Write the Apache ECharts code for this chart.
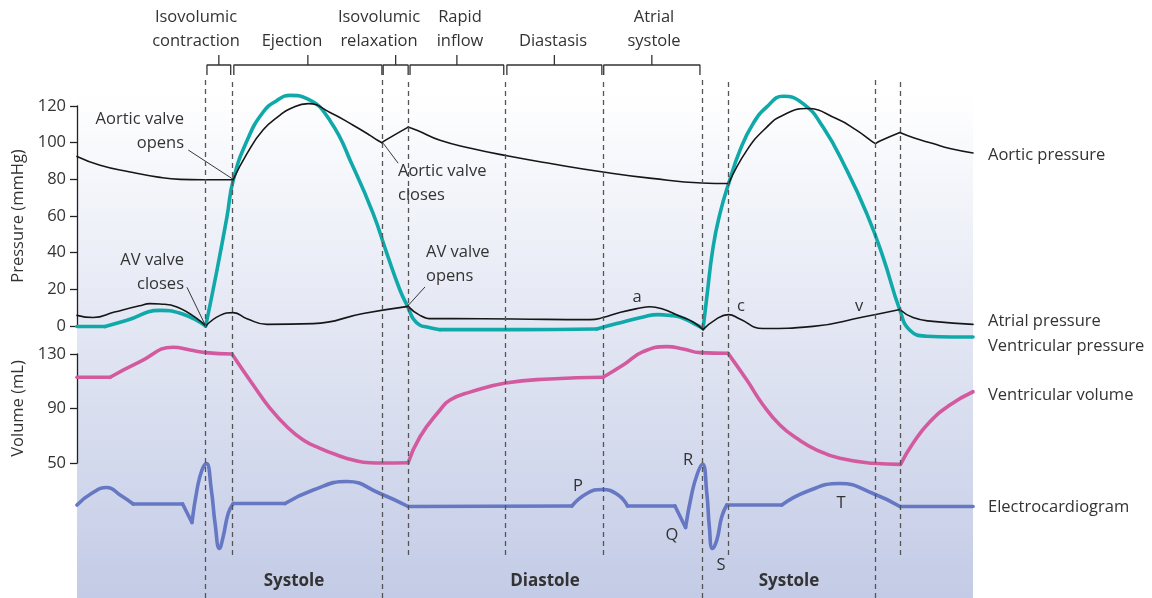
<!DOCTYPE html>
<html>
<head>
<meta charset="utf-8">
<script src="https://cdn.jsdelivr.net/npm/echarts@6/dist/echarts.min.js"></script>
<style>
html, body { margin: 0; padding: 0; background: #fff; }
#chart { width: 1152px; height: 598px; }
</style>
</head>
<body>
<div id="chart"></div>
<script>
// time axis in ms (one beat is roughly 800 ms)
var timeMax = 1434;

var longDashes = [206, 488, 1000, 1277];
var shortDashes = [248, 530, 686, 842, 1042, 1318];

var phaseNames = ['Isovolumic\ncontraction', 'Ejection', 'Isovolumic\nrelaxation', 'Rapid\ninflow', 'Diastasis', 'Atrial\nsystole'];
var phaseStart = [208, 251, 490, 533, 688, 843];
var phaseEnd = [246, 488, 530, 683, 840, 997];

var pressureTicks = [0, 20, 40, 60, 80, 100, 120];
var volumeTicks = [50, 90, 130];

// [time ms, mmHg]
var aorticPressure = [[0,92.5],[37,87.7],[85,84],[130,81.2],[165,80],[200,79.8],[250,79.8],[272,94],[298,107],[325,115],
  [341,118.5],[370,121.3],[405,116.5],[442,109.5],[469,104],[481,101.3],[488,100],[496,101.8],[530,108.5],[545,106.6],
  [581,101.3],[630,97],[686,93],[760,88.5],[842,84],[920,80.5],[1000,78],[1043,77.7],[1072,95.8],[1104,108.5],
  [1130,115],[1168,118.6],[1216,113],[1248,106.7],[1270,101.3],[1278,99.5],[1286,101],[1317,105.5],[1340,102.5],
  [1370,99.5],[1397,96.8],[1434,94.4]];

var ventricularPressure = [[0,-0.3],[45,-0.3],[80,3.1],[133,8.5],[170,6.4],[206,0],[224,30.4],[240,59.5],[250,79.5],
  [272,101],[298,116.7],[320,123],[341,125.8],[368,124],[405,112],[442,86.7],[474,61.3],[496,39.5],[517,19.5],
  [530,10],[538,4],[549,0.4],[560,-0.5],[581,-2],[700,-2],[832,-1.6],[864,1.3],[906,4.9],[930,6.2],[949,5.8],
  [965,4.9],[986,1.6],[1002,-1.4],[1008,15.8],[1018,43],[1029,61.3],[1043,77.8],[1061,95.8],[1082,110.4],
  [1104,119.5],[1130,125.3],[1162,121.3],[1194,108.5],[1232,85],[1264,61.3],[1290,37.6],[1317,8.6],[1333,-2.3],
  [1360,-5.6],[1400,-6],[1434,-6]];

var atrialPressure = [[0,5.8],[26,4.6],[60,7.6],[100,11],[117,12.2],[133,12],[160,10.4],[206,0],[229,5.8],[250,7.3],
  [272,4],[304,0.9],[378,1.3],[458,6.8],[530,10.7],[549,5.8],[570,4],[600,4],[700,3.8],[821,3.5],[842,4.6],
  [870,7.5],[901,9.8],[917,10.5],[935,9.5],[965,5.3],[986,2.2],[1002,-2],[1022,3.5],[1043,6.2],[1060,4],
  [1098,-1.4],[1178,-0.2],[1258,4.9],[1317,9],[1338,4.6],[1370,2.5],[1434,0.9]];

// [time ms, mL]
var ventricularVolume = [[0,112.9],[53,112.9],[101,124.4],[154,134.9],[181,132.9],[206,131],[248,130],[282,107.2],
  [309,90.1],[336,76.6],[362,66.9],[389,60.8],[416,55.9],[442,52.2],[469,50.2],[488,50],[530,50.2],[549,69.3],
  [581,88.9],[597,96.2],[629,102],[686,108.7],[757,111.7],[842,112.9],[874,121.9],[906,131.7],[944,135.4],
  [970,133.7],[997,131],[1042,130.5],[1072,110.9],[1098,92.6],[1125,77.9],[1152,68.1],[1184,59.5],[1221,53.4],
  [1274,49.8],[1318,49],[1338,64.5],[1365,80.3],[1397,92.6],[1434,102.3]];

// [time ms, mV]
var ecg = [[0,0],[23,0.23],[48,0.35],[69,0.2],[90,0.02],[169,0.02],[184,-0.35],[192,0.3],[200,0.7],[207,0.83],
  [215,0.3],[221,-0.37],[228,-0.87],[234,-0.63],[242,-0.17],[250,0.03],[333,0.03],[378,0.3],[432,0.47],[485,0.23],
  [530,-0.03],[792,-0.02],[816,0.23],[841,0.31],[866,0.2],[881,-0.02],[957,-0.02],[974,-0.45],[984,0.23],
  [993,0.63],[1001,0.82],[1008,0.23],[1012,-0.43],[1017,-0.87],[1024,-0.7],[1032,-0.23],[1040,0],[1128,0],
  [1168,0.27],[1221,0.43],[1274,0.23],[1317,-0.03],[1434,-0.03]];

// times where a curve has a sharp corner (smoothing restarts there)
var aorticCorners = [250, 488, 530, 1043, 1278, 1317];
var ventricularCorners = [45, 206, 581, 832, 1002];
var atrialCorners = [206, 530, 1002, 1317];
var volumeCorners = [53, 248, 530, 842, 1042, 1318];
var ecgCorners = [90, 169, 184, 250, 333, 530, 792, 881, 957, 974, 1040, 1128, 1317];

// leader lines for the valve notes, [time, mmHg] pairs
var leaders = [
  [[178,96],[250,80]],
  [[490,99.7],[514,88.8]],
  [[176,21.1],[206,0]],
  [[530,11.2],[557,21.3]]
];

var FONT = '"Open Sans", "Noto Sans", sans-serif';
var TXT = '#333';
var myChart = echarts.init(document.getElementById('chart'));

function hiddenX(i) {
    return { type: 'value', gridIndex: i, min: 0, max: timeMax, show: false };
}
function text(str, x, y, align, opts) {
    opts = opts || {};
    return {
        type: 'text', x: x, y: y, z: 50, silent: true,
        style: {
            text: str,
            fill: TXT,
            font: (opts.weight || 'normal') + ' ' + (opts.size || 16.5) + 'px ' + FONT,
            align: align, textAlign: align,
            verticalAlign: 'middle', textVerticalAlign: 'middle',
            lineHeight: 24
        }
    };
}
function splitAt(data, corners) {
    var out = [], cur = [];
    data.forEach(function (p) {
        cur.push(p);
        if (cur.length > 1 && corners.indexOf(p[0]) >= 0) {
            out.push(cur);
            cur = [p];
        }
    });
    if (cur.length > 1) out.push(cur);
    return out;
}

var series = [];

// dashed phase boundaries
function dashSeries(list, grid) {
    return {
        type: 'line', xAxisIndex: grid, yAxisIndex: grid, data: [], z: 1, silent: true,
        markLine: {
            symbol: ['none', 'none'], silent: true, label: { show: false },
            lineStyle: { color: '#555', width: 1.3, type: [5, 4] },
            data: list.map(function (t) { return [{ coord: [t, 0] }, { coord: [t, 1] }]; })
        }
    };
}
series.push(dashSeries(longDashes, 3));
series.push(dashSeries(shortDashes, 4));

// brackets over the phases
for (var i = 0; i < phaseStart.length; i++) {
    var mid = (phaseStart[i] + phaseEnd[i]) / 2;
    var lineStyle = { color: '#333', width: 1.3 };
    series.push({
        type: 'line', xAxisIndex: 5, yAxisIndex: 5, symbol: 'none', silent: true, lineStyle: lineStyle,
        data: [[phaseStart[i], 0], [phaseStart[i], 1], [phaseEnd[i], 1], [phaseEnd[i], 0]]
    });
    series.push({
        type: 'line', xAxisIndex: 5, yAxisIndex: 5, symbol: 'none', silent: true, lineStyle: lineStyle,
        data: [[mid, 1], [mid, 2]]
    });
}

function curve(data, corners, grid, color, width, z) {
    splitAt(data, corners).forEach(function (seg) {
        series.push({
            type: 'line', xAxisIndex: grid, yAxisIndex: grid, data: seg, symbol: 'none',
            smooth: 0.5, clip: false, z: z, silent: true,
            lineStyle: { color: color, width: width, cap: 'round', join: 'round' }
        });
    });
}
curve(ventricularPressure, ventricularCorners, 0, '#10a9a9', 3.6, 3);
curve(aorticPressure, aorticCorners, 0, '#161616', 1.6, 4);
curve(atrialPressure, atrialCorners, 0, '#161616', 1.6, 4);
curve(ventricularVolume, volumeCorners, 1, '#d45aa0', 3.6, 3);
curve(ecg, ecgCorners, 2, '#6677c3', 3.6, 3);

leaders.forEach(function (l) {
    series.push({
        type: 'line', xAxisIndex: 0, yAxisIndex: 0, data: l, symbol: 'none', clip: false, z: 4, silent: true,
        lineStyle: { color: '#222', width: 0.9 }
    });
});

var axisStyle = {
    axisLine: { show: true, lineStyle: { color: '#222', width: 1.3 } },
    axisTick: { show: true, length: 7, lineStyle: { color: '#222', width: 1.3 } },
    axisLabel: { color: TXT, fontSize: 16.5, fontFamily: FONT, margin: 11 },
    splitLine: { show: false },
    nameTextStyle: { color: TXT, fontSize: 16.5, fontFamily: FONT },
    nameLocation: 'middle',
    nameGap: 50
};

var option = {
    animation: false,
    backgroundColor: '#fff',
    grid: [
        { left: 77, width: 896, top: 106, height: 220 },   // pressure
        { left: 77, width: 896, top: 354, height: 109 },   // volume
        { left: 77, width: 896, top: 445, height: 120 },   // ecg
        { left: 77, width: 896, top: 78, height: 520 },    // long dashes
        { left: 77, width: 896, top: 78, height: 477 },    // short dashes
        { left: 77, width: 896, top: 55, height: 20 }      // brackets
    ],
    xAxis: [hiddenX(0), hiddenX(1), hiddenX(2), hiddenX(3), hiddenX(4), hiddenX(5)],
    yAxis: [
        Object.assign({ type: 'value', gridIndex: 0, name: 'Pressure (mmHg)',
            min: pressureTicks[0], max: pressureTicks[pressureTicks.length - 1],
            interval: pressureTicks[1] - pressureTicks[0] }, axisStyle),
        Object.assign({ type: 'value', gridIndex: 1, name: 'Volume (mL)',
            min: volumeTicks[0], max: volumeTicks[volumeTicks.length - 1],
            interval: volumeTicks[1] - volumeTicks[0] }, axisStyle),
        { type: 'value', gridIndex: 2, min: -1.2, max: 1.2, show: false },
        { type: 'value', gridIndex: 3, min: 0, max: 1, show: false },
        { type: 'value', gridIndex: 4, min: 0, max: 1, show: false },
        { type: 'value', gridIndex: 5, min: 0, max: 2, show: false }
    ],
    graphic: [
        {
            type: 'rect', z: -10, silent: true,
            shape: { x: 77, y: 92, width: 896, height: 506 },
            style: { fill: new echarts.graphic.LinearGradient(0, 0, 0, 1, [
                { offset: 0, color: '#ffffff' }, { offset: 1, color: '#c3cbe6' }]) }
        },
        text(phaseNames[0], 196, 29, 'center'),
        text(phaseNames[1], 292, 41, 'center'),
        text(phaseNames[2], 379, 29, 'center'),
        text(phaseNames[3], 460, 29, 'center'),
        text(phaseNames[4], 553, 41, 'center'),
        text(phaseNames[5], 654, 29, 'center'),

        text('Aortic valve\nopens', 184, 131, 'right'),
        text('AV valve\ncloses', 184, 272, 'right'),
        text('Aortic valve\ncloses', 398, 183, 'left'),
        text('AV valve\nopens', 426, 264, 'left'),

        text('a', 637, 297, 'center'),
        text('c', 741, 306, 'center'),
        text('v', 859, 306, 'center'),
        text('P', 578, 486, 'center'),
        text('R', 688, 460, 'center'),
        text('Q', 672, 535, 'center'),
        text('S', 721, 565, 'center'),
        text('T', 841, 503, 'center'),

        text('Systole', 294, 581, 'center', { weight: 'bold', size: 17 }),
        text('Diastole', 545, 581, 'center', { weight: 'bold', size: 17 }),
        text('Systole', 789, 581, 'center', { weight: 'bold', size: 17 }),

        text('Aortic pressure', 988, 155, 'left'),
        text('Atrial pressure', 988, 321, 'left'),
        text('Ventricular pressure', 988, 346, 'left'),
        text('Ventricular volume', 988, 395, 'left'),
        text('Electrocardiogram', 988, 507, 'left')
    ],
    series: series
};

myChart.setOption(option);
</script>
</body>
</html>
